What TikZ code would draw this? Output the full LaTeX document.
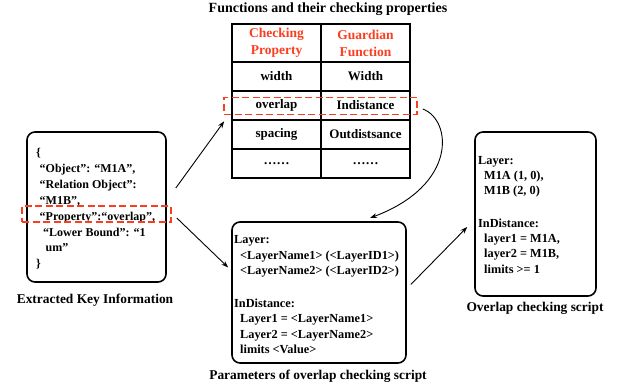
\documentclass[tikz,border=0pt]{standalone}
\usepackage{fontspec}
\setmainfont{Liberation Serif}
\usetikzlibrary{arrows.meta,calc}
\definecolor{hired}{RGB}{250,62,32}
\begin{document}
\begin{tikzpicture}[x=1pt,y=-1pt,
  every node/.style={font=\bfseries\fontsize{12}{15.5}\selectfont, inner sep=0pt},
  cell/.style={draw, line width=1.3pt, minimum width=89, minimum height=29, align=center,
    font=\bfseries\fontsize{13}{14}\selectfont},
  headcell/.style={cell, minimum height=38, text=hired,
    font=\bfseries\fontsize{13.5}{17}\selectfont},
  roundbox/.style={draw, line width=1.6pt, rounded corners=8pt},
  hilite/.style={draw=hired, line width=1.6pt, dash pattern=on 7pt off 3.5pt},
  txt/.style={anchor=north west, align=left},
  captext/.style={font=\bfseries\fontsize{13.4}{15}\selectfont},
  arr/.style={-{Stealth[length=7pt,width=5pt]}, line width=0.9pt}]
\useasboundingbox (0,0) rectangle (628,390);

% table of properties and guardian functions
\node[captext, font=\bfseries\fontsize{14}{15}\selectfont] (title) at (328,9) {Functions and their checking properties};
\node[headcell] (h1) at (276.5,43) {Checking\\Property};
\node[headcell] (h2) at (365.5,43) {Guardian\\Function};
\node[cell] (r1a) at (276.5,76.5) {width};
\node[cell] (r1b) at (365.5,76.5) {Width};
\node[cell] (r2a) at (276.5,105.5) {overlap};
\node[cell] (r2b) at (365.5,105.5) {Indistance};
\node[cell] (r3a) at (276.5,134.5) {spacing};
\node[cell] (r3b) at (365.5,134.5) {Outdistsance};
\node[cell] (r4a) at (276.5,163.5) {\dots\dots};
\node[cell] (r4b) at (365.5,163.5) {\dots\dots};
\node[hilite, minimum width=193, minimum height=17] (hlTab) at (320.5,106) {};

% extracted key information
\node[roundbox, minimum width=139, minimum height=150] (keyBox) at (96.5,207) {};
\node[txt, font=\bfseries\fontsize{12}{15.9}\selectfont] (keyText) at (36,148) {\{\\
\hspace*{3.5pt}“Object”: “M1A”,\\
\hspace*{3.5pt}“Relation Object”:\\
\hspace*{3.5pt}“M1B”,\\
\hspace*{3.5pt}“Property”:“overlap”,\\
\hspace*{7pt}“Lower Bound”: “1\\
\hspace*{9.5pt}um”\\
\}};
\node[hilite, minimum width=149, minimum height=16] (hlKey) at (96.5,214) {};
\node[captext] (keyCap) at (95,300) {Extracted Key Information};

% parameter template
\node[roundbox, minimum width=174, minimum height=141] (params) at (319,292.5) {};
\node[txt, font=\bfseries\fontsize{12.3}{15.3}\selectfont] (paramText) at (234,235.5) {Layer:\\
\hspace*{6pt}<LayerName1> (<LayerID1>)\\
\hspace*{6pt}<LayerName2> (<LayerID2>)\\[18pt]
InDistance:\\
\hspace*{6pt}Layer1 = <LayerName1>\\
\hspace*{6pt}Layer2 = <LayerName2>\\
\hspace*{6pt}limits <Value>};
\node[captext] (paramCap) at (318,376) {Parameters of overlap checking script};

% generated checking script
\node[roundbox, minimum width=121, minimum height=164] (script) at (535.5,214) {};
\node[txt, font=\bfseries\fontsize{12.3}{15.3}\selectfont] (scriptText) at (478,156) {Layer:\\
\hspace*{6pt}M1A (1, 0),\\
\hspace*{6pt}M1B (2, 0)\\[17pt]
InDistance:\\
\hspace*{6pt}layer1 = M1A,\\
\hspace*{6pt}layer2 = M1B,\\
\hspace*{6pt}limits >= 1};
\node[captext] (scriptCap) at (535,308) {Overlap checking script};

% connectors
\coordinate (a1s) at ($(keyBox.east)+(9,-19)$);
\coordinate (a1e) at ($(hlTab.south west)+(1,6)$);
\draw[arr] (a1s) -- (a1e);
\coordinate (a2s) at ($(hlKey.east)+(5,4)$);
\coordinate (a2e) at ($(params.west)+(-3,-25)$);
\draw[arr] (a2s) -- (a2e);
\coordinate (c1s) at ($(hlTab.east)+(5,3)$);
\coordinate (c1e) at (370,218);
\draw[arr] (c1s) .. controls (452,120) and (458,185) .. (c1e);
\coordinate (a3s) at ($(params.east)+(4,-8)$);
\coordinate (a3e) at ($(script.west)+(-7,13)$);
\draw[arr] (a3s) -- (a3e);
\end{tikzpicture}
\end{document}
